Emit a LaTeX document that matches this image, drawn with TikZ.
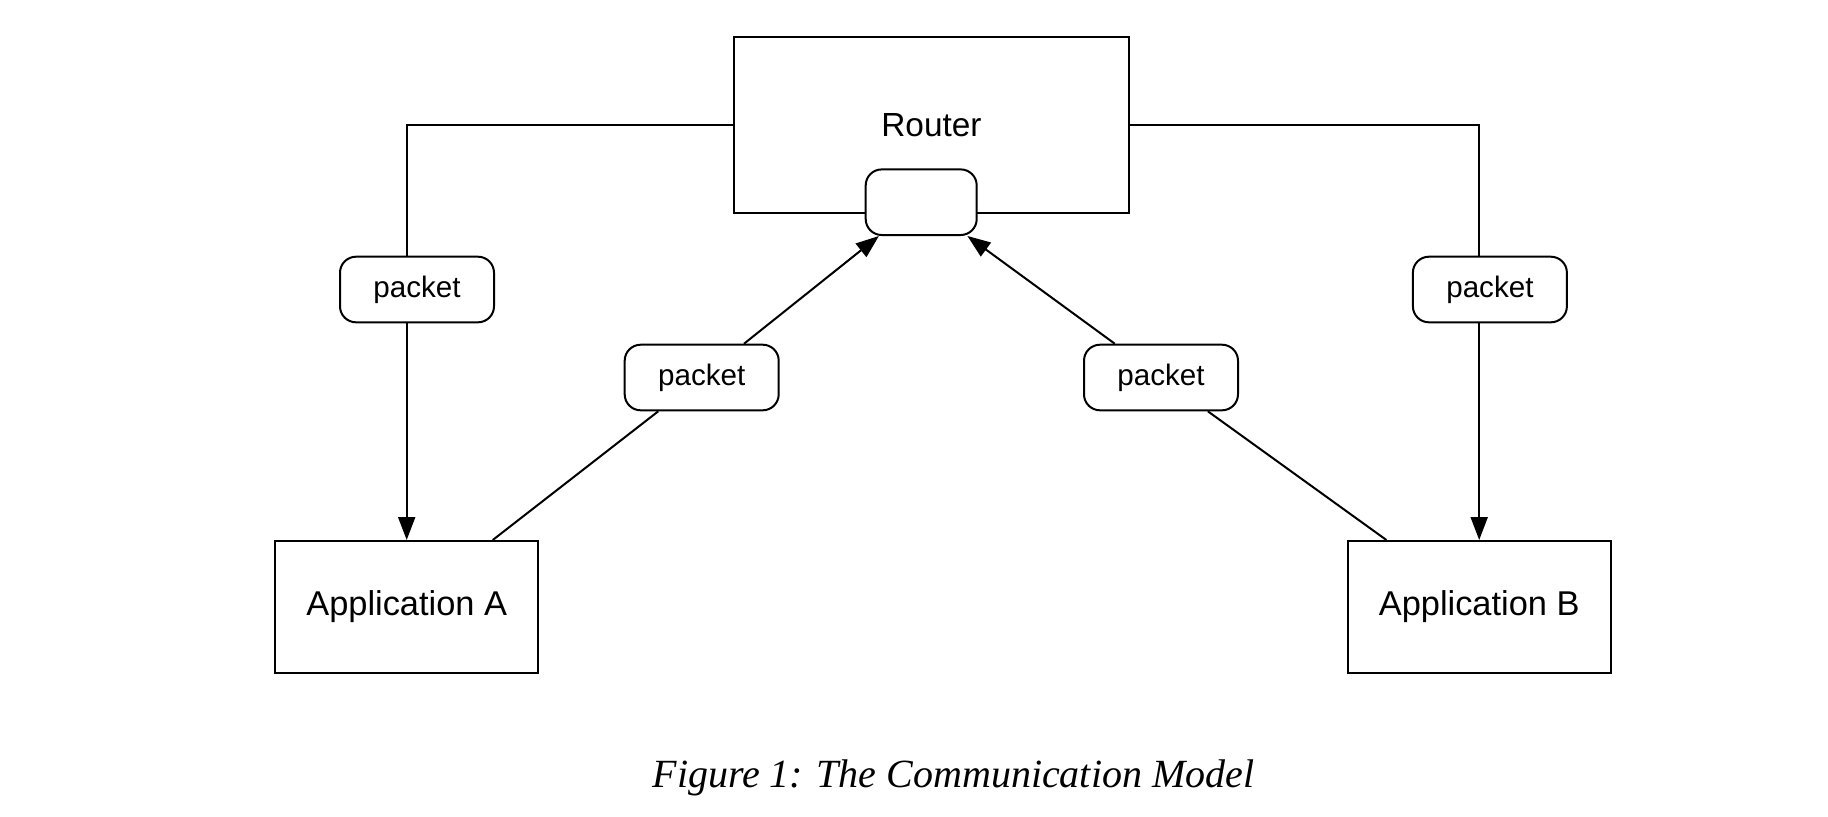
\documentclass[tikz,border=0pt]{standalone}
\usepackage{fontspec}
\newfontfamily\diag{Liberation Sans}
\newfontfamily\capfont{Liberation Serif}
\usetikzlibrary{arrows.meta}
\begin{document}
\begin{tikzpicture}[x=0.5pt,y=-0.5pt,
  line width=1pt,
  box/.style={draw, rectangle, inner sep=0pt, fill=white, font=\diag\fontsize{17.2pt}{20pt}\selectfont},
  pkt/.style={draw, rectangle, rounded corners=8pt, inner sep=0pt, fill=white,
    minimum width=77pt, minimum height=32.8pt, font=\diag\fontsize{14.8pt}{17pt}\selectfont},
  arr/.style={-{Triangle[length=11.5pt,width=8.5pt]}}]
\useasboundingbox[fill=white] (0,0) rectangle (1828,816);
\node[box, minimum width=197.5pt, minimum height=87.7pt, font=\diag\fontsize{16.7pt}{19pt}\selectfont] (router) at (931.5,125) {Router};
\node[pkt, minimum width=55.5pt] (hub) at (921.2,202.2) {};
\node[box, minimum width=131.7pt, minimum height=66pt] (appA) at (406.7,607) {Application A};
\node[box, minimum width=131.7pt, minimum height=66pt] (appB) at (1479.2,607) {Application B};
\node[pkt] (pA) at (417,289.5) {packet};
\node[pkt] (pB) at (1489.9,289.5) {packet};
\node[pkt] (pM1) at (701.7,377.5) {packet};
\node[pkt] (pM2) at (1161,377.5) {packet};
\draw (router.west) -| (appA.north |- pA.north);
\draw[arr] (appA.north |- pA.south) -- (appA.north);
\draw (router.east) -| (appB.north |- pB.north);
\draw[arr] (appB.north |- pB.south) -- (appB.north);
\draw (appA) -- (pM1);
\draw[arr] (pM1) -- (hub);
\draw (appB) -- (pM2);
\draw[arr] (pM2) -- (hub);
\node[font=\capfont\itshape\fontsize{20pt}{23pt}\selectfont] (cap) at (953.5,778) {Figure 1: The Communication Model};
\end{tikzpicture}
\end{document}
